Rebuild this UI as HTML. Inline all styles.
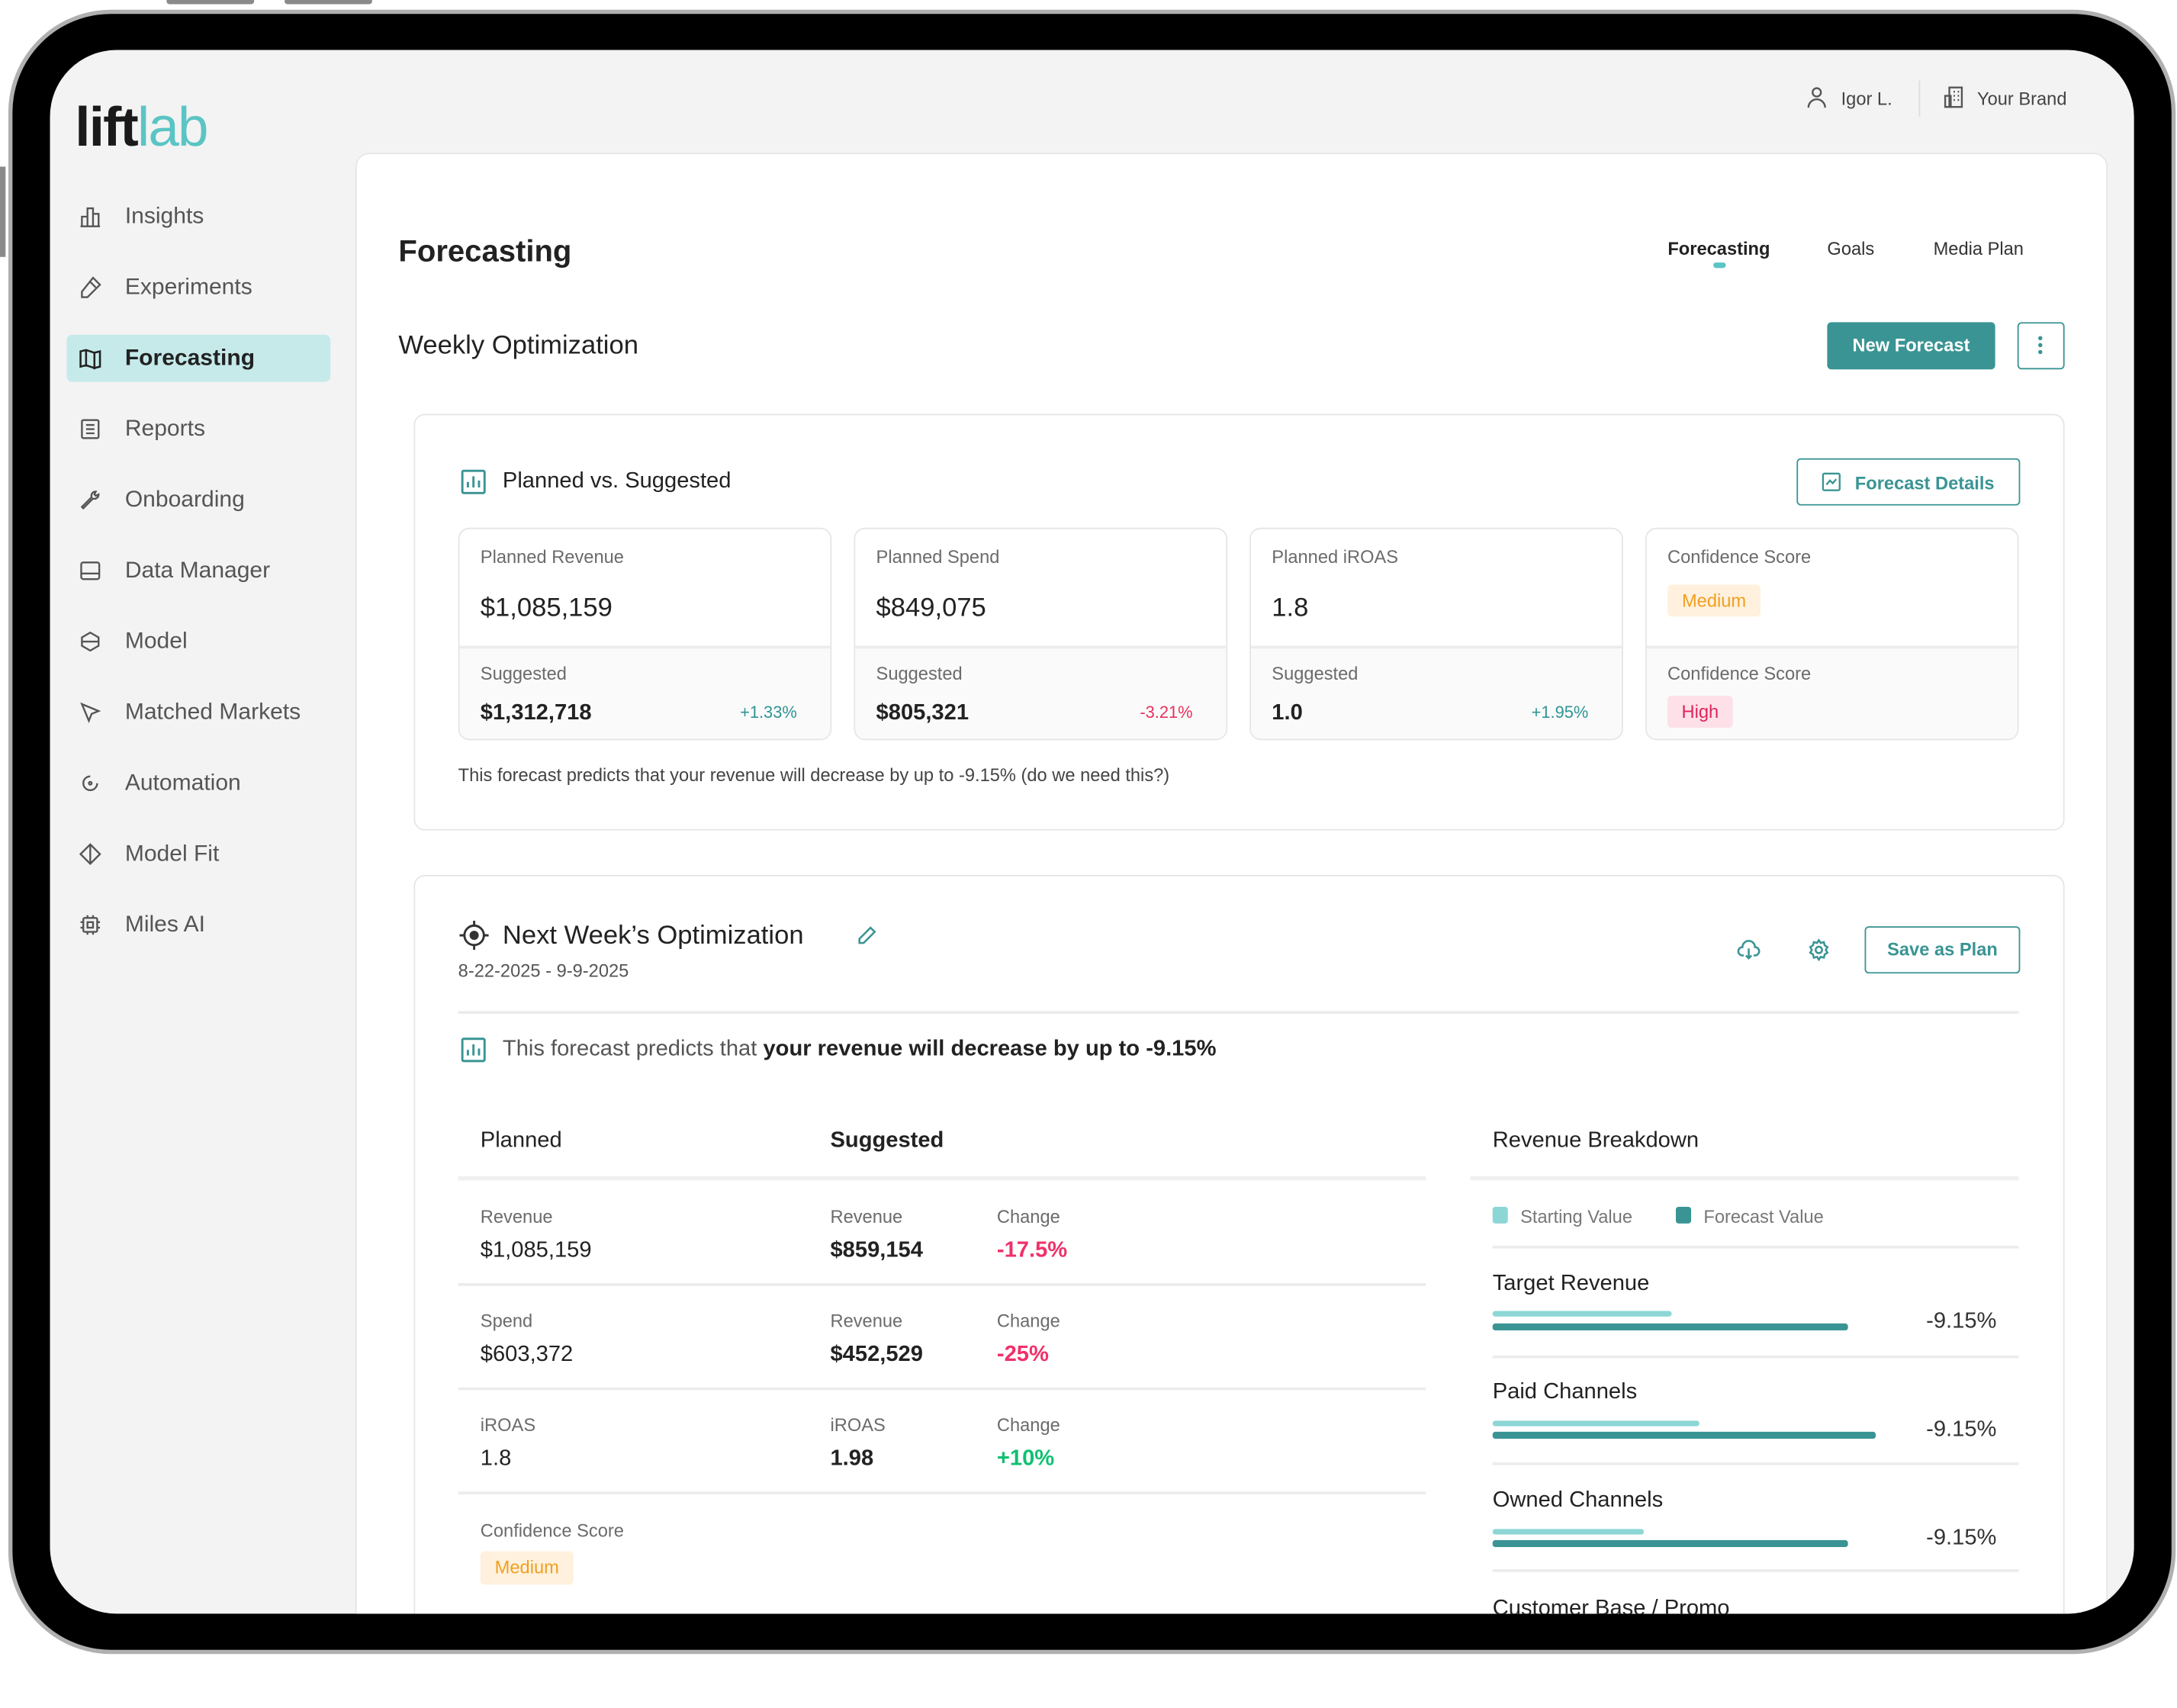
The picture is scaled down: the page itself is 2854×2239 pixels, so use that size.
<!DOCTYPE html>
<html><head><meta charset="utf-8">
<style>
*{margin:0;padding:0;box-sizing:border-box}
html,body{width:2854px;height:2170px;overflow:hidden;background:#fff}
#w{position:absolute;left:0;top:0;width:1568px;height:1192px;transform:scale(1.8202,1.8205);transform-origin:0 0;font-family:"Liberation Sans",sans-serif;color:#222}
.a{position:absolute}
.t{position:absolute;white-space:nowrap;line-height:1;transform:translateY(-50%)}
.r{transform:translate(-100%,-50%)}
.c{transform:translate(-50%,-50%)}
.nav{font-size:16.5px;color:#555;left:90px}
.box{position:absolute;border:1px solid #e6e6e6;border-radius:8px;background:#fff}
.lbl{font-size:13px;color:#6b6b6b}
.hl{position:absolute;height:2px;background:#ececec}
.ico{position:absolute;left:57px;width:16px;height:16px}
</style></head><body>
<div id="w">
<div class="a" style="left:120px;top:0;width:63px;height:3px;background:#8a8a8a;border-radius:0 0 2px 2px"></div>
<div class="a" style="left:205px;top:0;width:63px;height:3px;background:#8a8a8a;border-radius:0 0 2px 2px"></div>
<div class="a" style="left:0;top:120px;width:4px;height:65px;background:#8a8a8a"></div>
<div class="a" style="left:6px;top:7px;width:1561px;height:1184px;border-radius:74px;background:#000;border:3px solid #b0b0b0"></div>
<div class="a" style="left:0;top:0;width:1568px;height:1192px;clip-path:inset(36px 31px 30px 36px round 48px);background:#f3f3f3">

<!-- logo -->
<div class="t" style="left:54px;top:92px;font-size:40px;font-weight:bold;letter-spacing:-1px;color:#1a1a1a">lift<span style="color:#5bc4c4;font-weight:normal">lab</span></div>

<!-- sidebar -->
<div class="a" style="left:48px;top:241px;width:190px;height:34px;background:#c6eaea;border-radius:4px"></div>
<svg class="ico" style="top:148px" viewBox="0 0 16 16" fill="none" stroke="#555" stroke-width="1.3"><path d="M1 15h14M2 15V8h4v7M6 15V2h4v13M10 15V6h4v9"/></svg>
<svg class="ico" style="top:199px" viewBox="0 0 16 16" fill="none" stroke="#555" stroke-width="1.3"><path d="M10 1l5 5-9 9H2v-4z M8 4l4 4"/></svg>
<svg class="ico" style="top:250px" viewBox="0 0 16 16" fill="none" stroke="#222" stroke-width="1.4"><path d="M1 3l4-1 6 2 4-1v11l-4 1-6-2-4 1z M5 2v12 M11 4v12"/></svg>
<svg class="ico" style="top:301px" viewBox="0 0 16 16" fill="none" stroke="#555" stroke-width="1.3"><rect x="2" y="1.5" width="12" height="13" rx="1"/><path d="M5 5h6M5 8h6M5 11h6"/></svg>
<svg class="ico" style="top:352px" viewBox="0 0 16 16" fill="none" stroke="#555" stroke-width="1.3"><path d="M12 2a3 3 0 0 0-3 4L2 13l1 1 7-7a3 3 0 0 0 4-3l-2 1-1-1z"/></svg>
<svg class="ico" style="top:403px" viewBox="0 0 16 16" fill="none" stroke="#555" stroke-width="1.3"><rect x="1.5" y="2" width="13" height="12" rx="1.5"/><path d="M1.5 10h13"/></svg>
<svg class="ico" style="top:454px" viewBox="0 0 16 16" fill="none" stroke="#555" stroke-width="1.3"><path d="M8 1.5l6 3.5v6l-6 3.5-6-3.5V5z M2 8h12"/></svg>
<svg class="ico" style="top:505px" viewBox="0 0 16 16" fill="none" stroke="#555" stroke-width="1.3"><path d="M2 2l5 12 2-5 5-2z"/></svg>
<svg class="ico" style="top:556px" viewBox="0 0 16 16" fill="none" stroke="#555" stroke-width="1.3"><path d="M13 8a5 5 0 1 1-5-5"/><circle cx="8" cy="8" r="1"/></svg>
<svg class="ico" style="top:607px" viewBox="0 0 16 16" fill="none" stroke="#555" stroke-width="1.3"><path d="M8 1l7 7-7 7-7-7z M8 1v14"/></svg>
<svg class="ico" style="top:658px" viewBox="0 0 16 16" fill="none" stroke="#555" stroke-width="1.3"><rect x="3" y="3" width="10" height="10" rx="1"/><rect x="6" y="6" width="4" height="4"/><path d="M6 1v2M10 1v2M6 13v2M10 13v2M1 6h2M1 10h2M13 6h2M13 10h2"/></svg>
<div class="t nav" style="top:156px">Insights</div>
<div class="t nav" style="top:207px">Experiments</div>
<div class="t nav" style="top:258px;color:#222;font-weight:bold">Forecasting</div>
<div class="t nav" style="top:309px">Reports</div>
<div class="t nav" style="top:360px">Onboarding</div>
<div class="t nav" style="top:411px">Data Manager</div>
<div class="t nav" style="top:462px">Model</div>
<div class="t nav" style="top:513px">Matched Markets</div>
<div class="t nav" style="top:564px">Automation</div>
<div class="t nav" style="top:615px">Model Fit</div>
<div class="t nav" style="top:666px">Miles AI</div>

<!-- top right -->
<svg class="a" style="left:1301px;top:62px" width="15" height="16" viewBox="0 0 15 16" fill="none" stroke="#555" stroke-width="1.3"><circle cx="7.5" cy="4.5" r="3"/><path d="M1.5 15.5a6 6 0 0 1 12 0"/></svg>
<div class="t" style="left:1326px;top:71px;font-size:13px;color:#444">Igor L.</div>
<div class="a" style="left:1382px;top:58px;width:1px;height:26px;background:#ddd"></div>
<svg class="a" style="left:1400px;top:62px" width="15" height="16" viewBox="0 0 15 16" fill="none" stroke="#555" stroke-width="1.3"><rect x="4" y="1" width="9" height="14"/><rect x="1" y="7" width="4" height="8"/><path d="M7 4h1M10 4h1M7 7h1M10 7h1M7 10h1M10 10h1"/></svg>
<div class="t" style="left:1424px;top:71px;font-size:13px;color:#444">Your Brand</div>

<!-- main panel -->
<div class="a" style="left:256px;top:110px;width:1262px;height:1100px;background:#fff;border:1px solid #e6e6e6;border-radius:10px"></div>
<div class="t" style="left:287px;top:181px;font-size:22px;font-weight:bold;color:#222">Forecasting</div>
<div class="t c" style="left:1238px;top:179px;font-size:13px;color:#222;font-weight:bold">Forecasting</div>
<div class="a" style="left:1234px;top:189px;width:9px;height:4px;border-radius:2px;background:#5bc4c4"></div>
<div class="t c" style="left:1333px;top:179px;font-size:13px;color:#333">Goals</div>
<div class="t c" style="left:1425px;top:179px;font-size:13px;color:#333">Media Plan</div>

<div class="t" style="left:287px;top:249px;font-size:19px;color:#222">Weekly Optimization</div>
<div class="a" style="left:1316px;top:232px;width:121px;height:34px;background:#3a9494;border-radius:3px;color:#fff;font-size:13px;font-weight:bold;text-align:center;line-height:34px">New Forecast</div>
<div class="a" style="left:1453px;top:232px;width:34px;height:34px;border:1.5px solid #3a9494;border-radius:3px"></div>
<div class="a" style="left:1468px;top:242px;width:3px;height:3px;border-radius:2px;background:#3a9494;box-shadow:0 5px 0 #3a9494,0 10px 0 #3a9494"></div>

<!-- card 1 -->
<div class="box" style="left:298px;top:298px;width:1189px;height:300px"></div>
<svg class="a" style="left:332px;top:338px" width="18" height="18" viewBox="0 0 18 18" fill="none" stroke="#3a9494" stroke-width="1.6"><rect x="1" y="1" width="16" height="16" rx="1"/><path d="M5 13V9M9 13V5M13 13V8"/></svg>
<div class="t" style="left:362px;top:347px;font-size:16px;color:#222">Planned vs. Suggested</div>
<div class="a" style="left:1294px;top:330px;width:161px;height:34px;border:1.5px solid #3a9494;border-radius:3px"></div>
<svg class="a" style="left:1312px;top:340px" width="14" height="14" viewBox="0 0 14 14" fill="none" stroke="#3a9494" stroke-width="1.3"><rect x="1" y="1" width="12" height="12" rx="1"/><path d="M3.5 9l2.5-3 2 2 2.5-3"/></svg>
<div class="t" style="left:1336px;top:348px;font-size:13px;color:#3a9494;font-weight:bold">Forecast Details</div>

<!-- stat cards -->
<div class="box" style="left:330px;top:380px;width:269px;height:153px;overflow:hidden"><div class="a" style="left:0;top:84px;width:100%;height:70px;background:#fafafa;border-top:2px solid #ececec"></div></div>
<div class="box" style="left:615px;top:380px;width:269px;height:153px;overflow:hidden"><div class="a" style="left:0;top:84px;width:100%;height:70px;background:#fafafa;border-top:2px solid #ececec"></div></div>
<div class="box" style="left:900px;top:380px;width:269px;height:153px;overflow:hidden"><div class="a" style="left:0;top:84px;width:100%;height:70px;background:#fafafa;border-top:2px solid #ececec"></div></div>
<div class="box" style="left:1185px;top:380px;width:269px;height:153px;overflow:hidden"><div class="a" style="left:0;top:84px;width:100%;height:70px;background:#fafafa;border-top:2px solid #ececec"></div></div>

<div class="t lbl" style="left:346px;top:401px">Planned Revenue</div>
<div class="t" style="left:346px;top:438px;font-size:19px">$1,085,159</div>
<div class="t lbl" style="left:346px;top:485px">Suggested</div>
<div class="t" style="left:346px;top:514px;font-size:16px;font-weight:bold">$1,312,718</div>
<div class="t r" style="left:574px;top:513px;font-size:12px;color:#2f9494">+1.33%</div>

<div class="t lbl" style="left:631px;top:401px">Planned Spend</div>
<div class="t" style="left:631px;top:438px;font-size:19px">$849,075</div>
<div class="t lbl" style="left:631px;top:485px">Suggested</div>
<div class="t" style="left:631px;top:514px;font-size:16px;font-weight:bold">$805,321</div>
<div class="t r" style="left:859px;top:513px;font-size:12px;color:#e8305e">-3.21%</div>

<div class="t lbl" style="left:916px;top:401px">Planned iROAS</div>
<div class="t" style="left:916px;top:438px;font-size:19px">1.8</div>
<div class="t lbl" style="left:916px;top:485px">Suggested</div>
<div class="t" style="left:916px;top:514px;font-size:16px;font-weight:bold">1.0</div>
<div class="t r" style="left:1144px;top:513px;font-size:12px;color:#2f9494">+1.95%</div>

<div class="t lbl" style="left:1201px;top:401px">Confidence Score</div>
<div class="a" style="left:1201px;top:421px;width:67px;height:23px;background:#fff1de;border-radius:3px;color:#f0a020;font-size:13px;text-align:center;line-height:23px">Medium</div>
<div class="t lbl" style="left:1201px;top:485px">Confidence Score</div>
<div class="a" style="left:1201px;top:501px;width:47px;height:23px;background:#fde0e8;border-radius:3px;color:#e0245e;font-size:13px;text-align:center;line-height:23px">High</div>

<div class="t" style="left:330px;top:558px;font-size:13px;color:#444">This forecast predicts that your revenue will decrease by up to -9.15% (do we need this?)</div>

<!-- card 2 -->
<div class="box" style="left:298px;top:630px;width:1189px;height:600px"></div>
<svg class="a" style="left:331px;top:663px" width="21" height="21" viewBox="0 0 21 21" fill="none" stroke="#333" stroke-width="1.6"><circle cx="10.5" cy="10.5" r="7"/><circle cx="10.5" cy="10.5" r="2.5" fill="#333"/><path d="M10.5 0v3.5M10.5 17.5V21M0 10.5h3.5M17.5 10.5H21"/></svg>
<div class="t" style="left:362px;top:674px;font-size:19px;color:#222">Next Week’s Optimization</div>
<svg class="a" style="left:617px;top:666px" width="15" height="15" viewBox="0 0 15 15" fill="none" stroke="#3a9494" stroke-width="1.4"><path d="M10 2l3 3-8 8H2v-3z"/></svg>
<div class="t" style="left:330px;top:699px;font-size:13px;color:#555">8-22-2025 - 9-9-2025</div>
<svg class="a" style="left:1251px;top:676px" width="17" height="15" viewBox="0 0 17 15" fill="none" stroke="#3a9494" stroke-width="1.4"><path d="M5 12H4a3 3 0 0 1 0-6 4.5 4.5 0 0 1 9 0 3 3 0 0 1 0 6h-1M8.5 7v7M6.5 12l2 2 2-2"/></svg>
<svg class="a" style="left:1302px;top:676px" width="16" height="16" viewBox="0 0 16 16" fill="none" stroke="#3a9494" stroke-width="1.4"><circle cx="8" cy="8" r="2.3"/><path d="M8 1l1.3 2 2.3-.6.6 2.3 2 1.3-1.2 2 1.2 2-2 1.3-.6 2.3-2.3-.6L8 15l-1.3-2-2.3.6-.6-2.3-2-1.3 1.2-2-1.2-2 2-1.3.6-2.3 2.3.6z"/></svg>
<div class="a" style="left:1343px;top:667px;width:112px;height:34px;border:1.5px solid #3a9494;border-radius:3px;color:#3a9494;font-size:13px;font-weight:bold;text-align:center;line-height:31px">Save as Plan</div>

<div class="hl" style="left:330px;top:728px;width:1124px"></div>
<svg class="a" style="left:332px;top:747px" width="18" height="18" viewBox="0 0 18 18" fill="none" stroke="#3a9494" stroke-width="1.6"><rect x="1" y="1" width="16" height="16" rx="1"/><path d="M5 13V9M9 13V5M13 13V8"/></svg>
<div class="t" style="left:362px;top:756px;font-size:16px;color:#555">This forecast predicts that <b style="color:#222">your revenue will decrease by up to -9.15%</b></div>

<!-- table -->
<div class="t" style="left:346px;top:822px;font-size:16px;color:#222">Planned</div>
<div class="t" style="left:598px;top:822px;font-size:16px;font-weight:bold;color:#222">Suggested</div>
<div class="a" style="left:330px;top:847px;width:697px;height:3px;background:#f0f0f0"></div>
<div class="t" style="left:1075px;top:822px;font-size:16px;color:#222">Revenue Breakdown</div>
<div class="a" style="left:1059px;top:847px;width:395px;height:3px;background:#f0f0f0"></div>

<div class="t lbl" style="left:346px;top:876px">Revenue</div>
<div class="t" style="left:346px;top:901px;font-size:16px">$1,085,159</div>
<div class="t lbl" style="left:598px;top:876px">Revenue</div>
<div class="t" style="left:598px;top:901px;font-size:16px;font-weight:bold">$859,154</div>
<div class="t lbl" style="left:718px;top:876px">Change</div>
<div class="t" style="left:718px;top:901px;font-size:16px;font-weight:bold;color:#f0306a">-17.5%</div>
<div class="hl" style="left:330px;top:924px;width:697px"></div>

<div class="t lbl" style="left:346px;top:951px">Spend</div>
<div class="t" style="left:346px;top:976px;font-size:16px">$603,372</div>
<div class="t lbl" style="left:598px;top:951px">Revenue</div>
<div class="t" style="left:598px;top:976px;font-size:16px;font-weight:bold">$452,529</div>
<div class="t lbl" style="left:718px;top:951px">Change</div>
<div class="t" style="left:718px;top:976px;font-size:16px;font-weight:bold;color:#f0306a">-25%</div>
<div class="hl" style="left:330px;top:999px;width:697px"></div>

<div class="t lbl" style="left:346px;top:1026px">iROAS</div>
<div class="t" style="left:346px;top:1051px;font-size:16px">1.8</div>
<div class="t lbl" style="left:598px;top:1026px">iROAS</div>
<div class="t" style="left:598px;top:1051px;font-size:16px;font-weight:bold">1.98</div>
<div class="t lbl" style="left:718px;top:1026px">Change</div>
<div class="t" style="left:718px;top:1051px;font-size:16px;font-weight:bold;color:#10c070">+10%</div>
<div class="hl" style="left:330px;top:1074px;width:697px"></div>

<div class="t lbl" style="left:346px;top:1102px">Confidence Score</div>
<div class="a" style="left:346px;top:1117px;width:67px;height:24px;background:#fff1de;border-radius:3px;color:#f0a020;font-size:13px;text-align:center;line-height:24px">Medium</div>

<!-- breakdown -->
<div class="a" style="left:1075px;top:869px;width:11px;height:12px;border-radius:2px;background:#8dd6d6"></div>
<div class="t" style="left:1095px;top:876px;font-size:13px;color:#777">Starting Value</div>
<div class="a" style="left:1207px;top:869px;width:11px;height:12px;border-radius:2px;background:#3a9494"></div>
<div class="t" style="left:1227px;top:876px;font-size:13px;color:#777">Forecast Value</div>
<div class="hl" style="left:1075px;top:897px;width:379px"></div>

<div class="t" style="left:1075px;top:925px;font-size:16px">Target Revenue</div>
<div class="a" style="left:1075px;top:944px;width:129px;height:4px;border-radius:2px;background:#8dd6d6"></div>
<div class="a" style="left:1075px;top:953px;width:256px;height:5px;border-radius:2px;background:#3a9494"></div>
<div class="t r" style="left:1438px;top:952px;font-size:16px;color:#333">-9.15%</div>
<div class="hl" style="left:1075px;top:976px;width:379px"></div>

<div class="t" style="left:1075px;top:1003px;font-size:16px">Paid Channels</div>
<div class="a" style="left:1075px;top:1023px;width:149px;height:4px;border-radius:2px;background:#8dd6d6"></div>
<div class="a" style="left:1075px;top:1031px;width:276px;height:5px;border-radius:2px;background:#3a9494"></div>
<div class="t r" style="left:1438px;top:1030px;font-size:16px;color:#333">-9.15%</div>
<div class="hl" style="left:1075px;top:1053px;width:379px"></div>

<div class="t" style="left:1075px;top:1081px;font-size:16px">Owned Channels</div>
<div class="a" style="left:1075px;top:1101px;width:109px;height:4px;border-radius:2px;background:#8dd6d6"></div>
<div class="a" style="left:1075px;top:1109px;width:256px;height:5px;border-radius:2px;background:#3a9494"></div>
<div class="t r" style="left:1438px;top:1108px;font-size:16px;color:#333">-9.15%</div>
<div class="hl" style="left:1075px;top:1130px;width:379px"></div>

<div class="t" style="left:1075px;top:1159px;font-size:16px">Customer Base / Promo</div>
</div>
</div>
</body></html>
